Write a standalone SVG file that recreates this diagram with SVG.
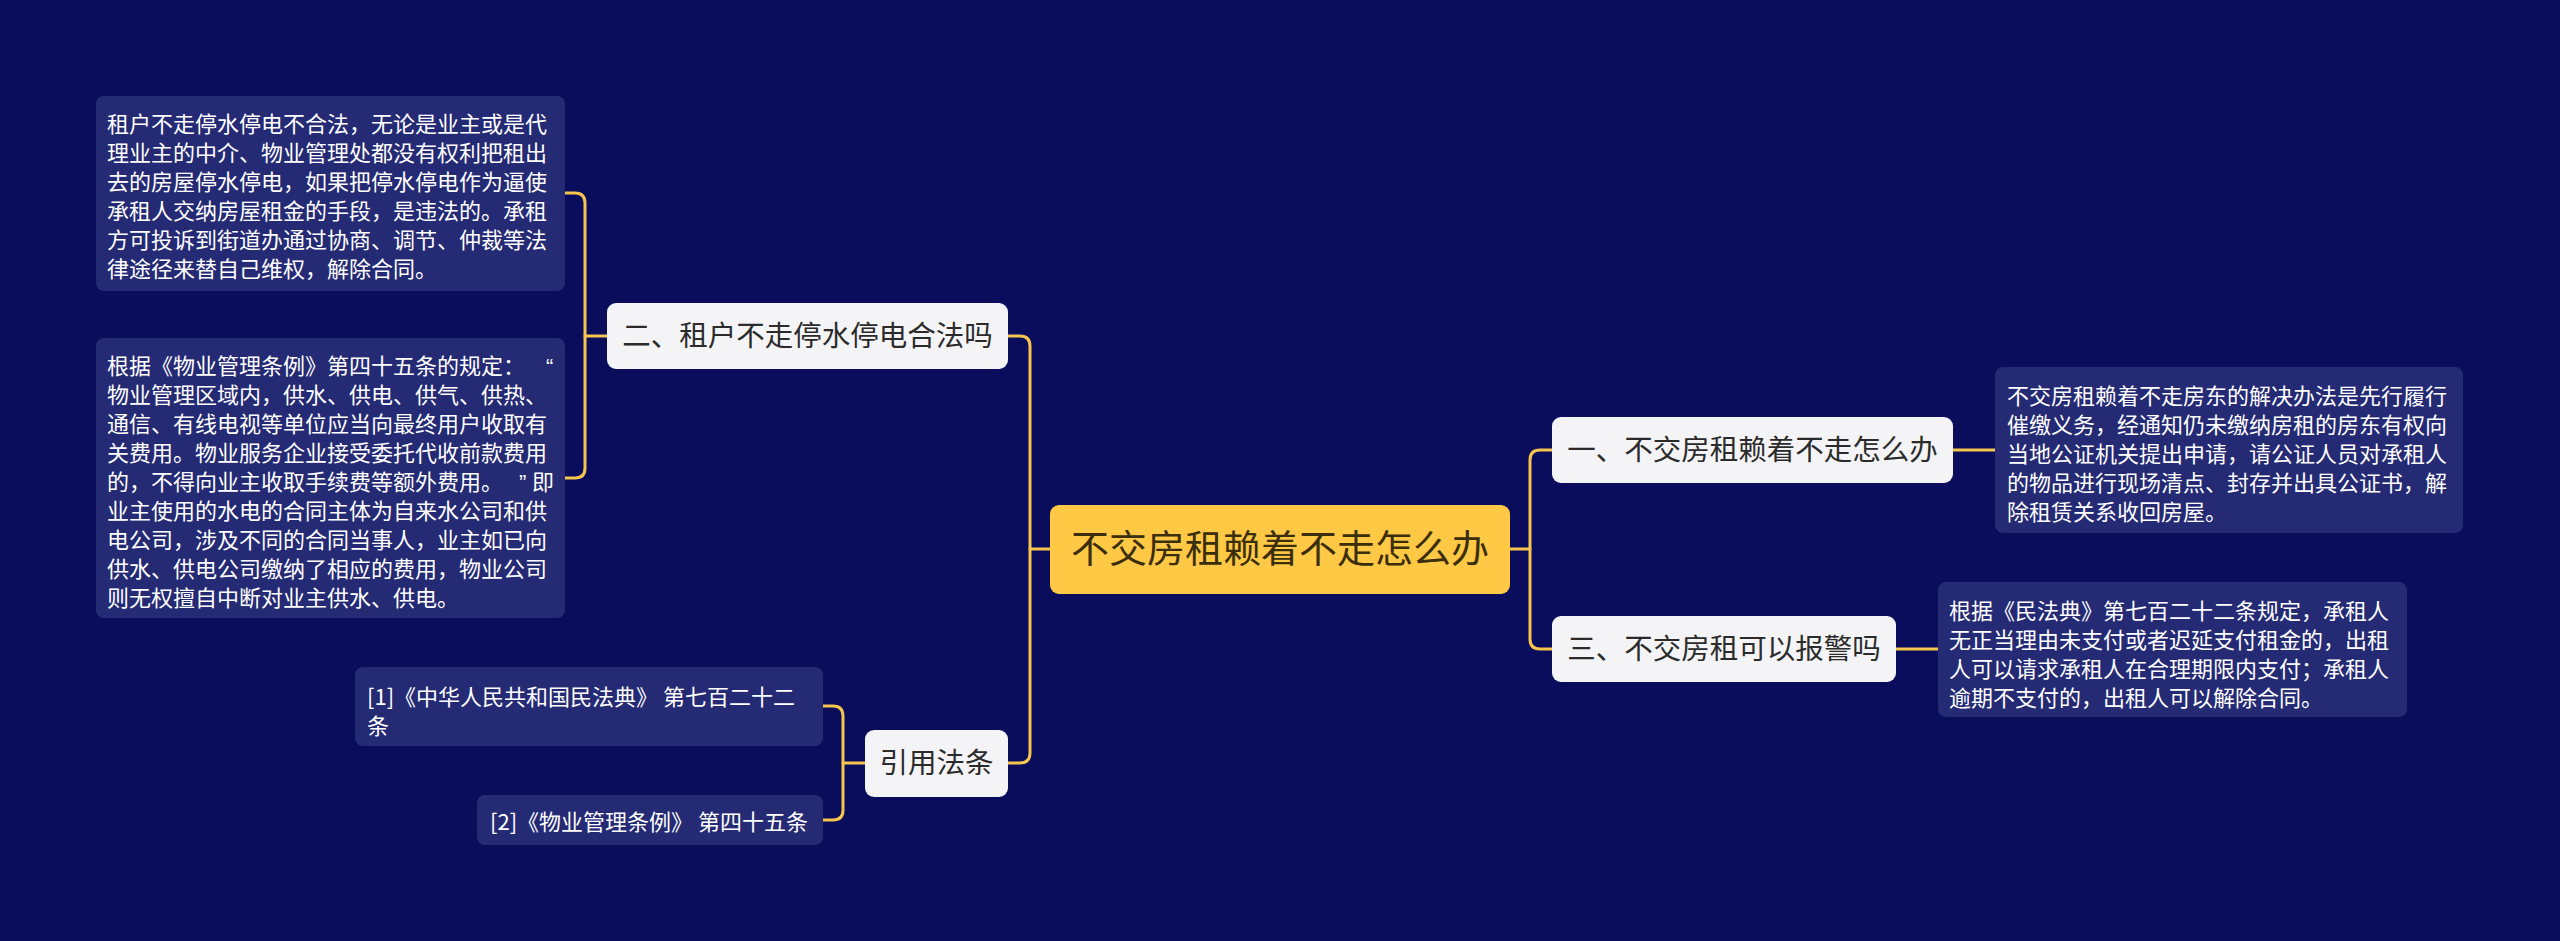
<svg xmlns="http://www.w3.org/2000/svg" width="2560" height="941" viewBox="0 0 2560 941">
<style>
.bg{fill:#0a0d5b}
.leaf{fill:#252a75}
.node{fill:#f4f4f6}
.root{fill:#ffc845}
.lt{font-family:"Noto Sans CJK SC","Noto Sans",sans-serif;font-size:22px;fill:#ffffff}
.q{font-family:"Liberation Sans","Noto Sans",sans-serif}
.nt{font-family:"Noto Sans CJK SC","Noto Sans",sans-serif;font-size:28.5px;fill:#2b2b2b;text-anchor:middle}
.rt{font-family:"Noto Sans CJK SC","Noto Sans",sans-serif;font-size:38px;fill:#3a2e0c;text-anchor:middle}
.c{fill:none;stroke:#f5c54e;stroke-width:3;stroke-linecap:round}
</style>
<rect class="bg" x="0" y="0" width="2560" height="941"/>
<g id="connectors">
<path class="c" d="M1008,336 H1020 Q1030,336 1030,346 V753 Q1030,763 1020,763 H1008"/>
<path class="c" d="M1030,549 H1050"/>
<path class="c" d="M1510,549 H1530"/>
<path class="c" d="M1552,450 H1540 Q1530,450 1530,460 V639 Q1530,649 1540,649 H1552"/>
<path class="c" d="M565,193 H575 Q585,193 585,203 V468 Q585,478 575,478 H565"/>
<path class="c" d="M585,336 H607"/>
<path class="c" d="M823,706 H833 Q843,706 843,716 V810 Q843,820 833,820 H823"/>
<path class="c" d="M843,763 H865"/>
<path class="c" d="M1953,450 H1995"/>
<path class="c" d="M1896,649 H1938"/>
</g>
<g id="root">
<rect class="root" x="1050" y="505" width="460" height="89" rx="9"/>
<text class="rt" x="1280" y="562">不交房租赖着不走怎么办</text>
</g>
<g id="node-2">
<rect class="node" x="607" y="303" width="401" height="66" rx="9"/>
<text class="nt" x="807.5" y="346">二、租户不走停水停电合法吗</text>
</g>
<g id="node-cite">
<rect class="node" x="865" y="730" width="143" height="67" rx="9"/>
<text class="nt" x="936.5" y="773">引用法条</text>
</g>
<g id="node-1">
<rect class="node" x="1552" y="417" width="401" height="66" rx="9"/>
<text class="nt" x="1752.5" y="460">一、不交房租赖着不走怎么办</text>
</g>
<g id="node-3">
<rect class="node" x="1552" y="616" width="344" height="66" rx="9"/>
<text class="nt" x="1724" y="659">三、不交房租可以报警吗</text>
</g>
<g id="leaf-2a">
<rect class="leaf" x="96" y="96" width="469" height="195" rx="8"/>
<text class="lt">
<tspan x="107" y="132">租户不走停水停电不合法，无论是业主或是代</tspan>
<tspan x="107" y="161">理业主的中介、物业管理处都没有权利把租出</tspan>
<tspan x="107" y="190">去的房屋停水停电，如果把停水停电作为逼使</tspan>
<tspan x="107" y="219">承租人交纳房屋租金的手段，是违法的。承租</tspan>
<tspan x="107" y="248">方可投诉到街道办通过协商、调节、仲裁等法</tspan>
<tspan x="107" y="277">律途径来替自己维权，解除合同。</tspan>
</text>
</g>
<g id="leaf-2b">
<rect class="leaf" x="96" y="338" width="469" height="280" rx="8"/>
<text class="lt">
<tspan x="107" y="374">根据《物业管理条例》第四十五条的规定：</tspan><tspan class="q" x="546" y="374">“</tspan>
<tspan x="107" y="403">物业管理区域内，供水、供电、供气、供热、</tspan>
<tspan x="107" y="432">通信、有线电视等单位应当向最终用户收取有</tspan>
<tspan x="107" y="461">关费用。物业服务企业接受委托代收前款费用</tspan>
<tspan x="107" y="490">的，不得向业主收取手续费等额外费用。</tspan><tspan class="q" x="519" y="490">”</tspan><tspan x="532" y="490">即</tspan>
<tspan x="107" y="519">业主使用的水电的合同主体为自来水公司和供</tspan>
<tspan x="107" y="548">电公司，涉及不同的合同当事人，业主如已向</tspan>
<tspan x="107" y="577">供水、供电公司缴纳了相应的费用，物业公司</tspan>
<tspan x="107" y="606">则无权擅自中断对业主供水、供电。</tspan>
</text>
</g>
<g id="leaf-cite1">
<rect class="leaf" x="355" y="667" width="468" height="79" rx="8"/>
<text class="lt">
<tspan x="367" y="705">[1]《中华人民共和国民法典》 第七百二十二</tspan>
<tspan x="367" y="734">条</tspan>
</text>
</g>
<g id="leaf-cite2">
<rect class="leaf" x="477" y="795" width="346" height="50" rx="8"/>
<text class="lt" x="490" y="830">[2]《物业管理条例》 第四十五条</text>
</g>
<g id="leaf-1">
<rect class="leaf" x="1995" y="367" width="468" height="166" rx="8"/>
<text class="lt">
<tspan x="2007" y="404">不交房租赖着不走房东的解决办法是先行履行</tspan>
<tspan x="2007" y="433">催缴义务，经通知仍未缴纳房租的房东有权向</tspan>
<tspan x="2007" y="462">当地公证机关提出申请，请公证人员对承租人</tspan>
<tspan x="2007" y="491">的物品进行现场清点、封存并出具公证书，解</tspan>
<tspan x="2007" y="520">除租赁关系收回房屋。</tspan>
</text>
</g>
<g id="leaf-3">
<rect class="leaf" x="1938" y="582" width="469" height="135" rx="8"/>
<text class="lt">
<tspan x="1949" y="619">根据《民法典》第七百二十二条规定，承租人</tspan>
<tspan x="1949" y="648">无正当理由未支付或者迟延支付租金的，出租</tspan>
<tspan x="1949" y="677">人可以请求承租人在合理期限内支付；承租人</tspan>
<tspan x="1949" y="706">逾期不支付的，出租人可以解除合同。</tspan>
</text>
</g>
</svg>
